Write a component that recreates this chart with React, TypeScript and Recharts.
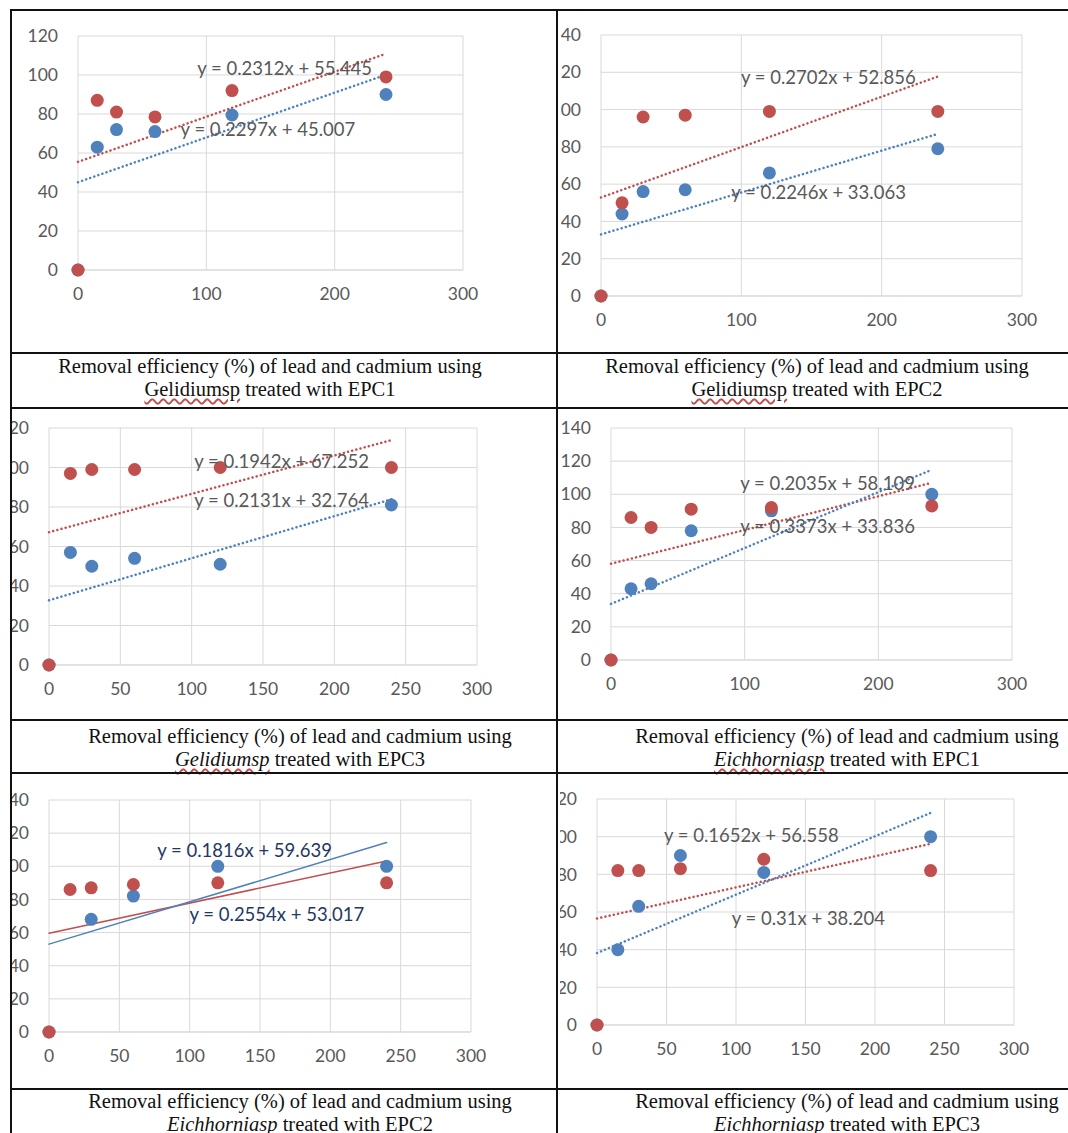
import React from 'react';
import { ScatterChart, Scatter, XAxis, YAxis, CartesianGrid, ReferenceLine, ReferenceDot } from 'recharts';

const X_TIMES = [0, 15, 30, 60, 120, 240];

const c1Red = [0, 87, 81, 78.5, 92, 99];
const c1Blue = [0, 63, 72, 71, 79.5, 90];
const c2Red = [0, 50, 96, 97, 99, 99];
const c2Blue = [0, 44, 56, 57, 66, 79];
const c3Red = [0, 97, 99, 99, 100, 100];
const c3Blue = [0, 57, 50, 54, 51, 81];
const c4Red = [0, 86, 80, 91, 92, 93];
const c4Blue = [0, 43, 46, 78, 90, 100];
const c5Red = [0, 86, 87, 89, 90, 90];
const c5Blue = [0, null, 68, 82, 100, 100];
const c6Red = [0, 82, 82, 83, 88, 82];
const c6Blue = [0, 40, 63, 90, 81, 100];

// trendline equations [slope, intercept]
const c1Trend = { red: [0.2312, 55.445], blue: [0.2297, 45.007] };
const c2Trend = { red: [0.2702, 52.856], blue: [0.2246, 33.063] };
const c3Trend = { red: [0.1942, 67.252], blue: [0.2131, 32.764] };
const c4Trend = { red: [0.2035, 58.109], blue: [0.3373, 33.836] };
const c5Trend = { red: [0.1816, 59.639], blue: [0.2554, 53.017] };
const c6Trend = { red: [0.1652, 56.558], blue: [0.31, 38.204] };

const RED = '#c0504d';
const BLUE = '#4f81bd';

const pts = (ys: (number | null)[]) =>
  X_TIMES.map((x, i) => ({ x, y: ys[i] })).filter((p) => p.y !== null);

const eq = (t: number[]) => `y = ${t[0]}x + ${t[1]}`;

type Cfg = {
  cell: [number, number, number, number];
  plot: [number, number, number, number];
  ymax: number;
  xticks: number[];
  red: (number | null)[];
  blue: (number | null)[];
  trend: { red: number[]; blue: number[] };
  solid?: boolean;
  labels: { text: string; x: number; y: number; color: string }[];
};

const charts: Cfg[] = [
  {
    cell: [11, 11, 546, 341], plot: [78, 36, 463, 270], ymax: 120, xticks: [0, 100, 200, 300],
    red: c1Red, blue: c1Blue, trend: c1Trend,
    labels: [
      { text: eq(c1Trend.red), x: 161, y: 103.6, color: '#595959' },
      { text: eq(c1Trend.blue), x: 148, y: 72.3, color: '#595959' },
    ],
  },
  {
    cell: [561, 11, 507, 341], plot: [601, 35, 1022, 296], ymax: 140, xticks: [0, 100, 200, 300],
    red: c2Red, blue: c2Blue, trend: c2Trend,
    labels: [
      { text: eq(c2Trend.red), x: 162, y: 117.5, color: '#595959' },
      { text: eq(c2Trend.blue), x: 155, y: 55.8, color: '#595959' },
    ],
  },
  {
    cell: [11, 408, 546, 311], plot: [49, 428, 477, 665], ymax: 120, xticks: [0, 50, 100, 150, 200, 250, 300],
    red: c3Red, blue: c3Blue, trend: c3Trend,
    labels: [
      { text: eq(c3Trend.red), x: 163, y: 103, color: '#595959' },
      { text: eq(c3Trend.blue), x: 163, y: 83.5, color: '#595959' },
    ],
  },
  {
    cell: [558, 408, 510, 311], plot: [611, 428, 1012, 660], ymax: 140, xticks: [0, 100, 200, 300],
    red: c4Red, blue: c4Blue, trend: c4Trend,
    labels: [
      { text: eq(c4Trend.red), x: 162, y: 106.8, color: '#595959' },
      { text: eq(c4Trend.blue), x: 162, y: 80.3, color: '#595959' },
    ],
  },
  {
    cell: [11, 774, 546, 313], plot: [49, 800, 471, 1032], ymax: 140, xticks: [0, 50, 100, 150, 200, 250, 300],
    red: c5Red, blue: c5Blue, trend: c5Trend, solid: true,
    labels: [
      { text: eq(c5Trend.red), x: 139, y: 109.8, color: '#1f3864' },
      { text: eq(c5Trend.blue), x: 162, y: 71.2, color: '#1f3864' },
    ],
  },
  {
    cell: [560, 774, 508, 313], plot: [597, 799, 1014, 1025], ymax: 120, xticks: [0, 50, 100, 150, 200, 250, 300],
    red: c6Red, blue: c6Blue, trend: c6Trend,
    labels: [
      { text: eq(c6Trend.red), x: 111, y: 100.4, color: '#595959' },
      { text: eq(c6Trend.blue), x: 152, y: 56.8, color: '#595959' },
    ],
  },
];

const captions = [
  { species: 'Gelidiumsp', epc: 'EPC1', italic: false, cx: 270, y: 355 },
  { species: 'Gelidiumsp', epc: 'EPC2', italic: false, cx: 817, y: 355 },
  { species: 'Gelidiumsp', epc: 'EPC3', italic: true, cx: 300, y: 725 },
  { species: 'Eichhorniasp', epc: 'EPC1', italic: true, cx: 847, y: 725 },
  { species: 'Eichhorniasp', epc: 'EPC2', italic: true, cx: 300, y: 1090 },
  { species: 'Eichhorniasp', epc: 'EPC3', italic: true, cx: 847, y: 1090 },
];

const PADL = 60, PADT = 12, PADR = 30, PADB = 40;
const FONT = 'Lato, "Open Sans", sans-serif';

function Chart({ c }: { c: Cfg }) {
  const [cx, cy, cw, ch] = c.cell;
  const [pl, pt, pr, pb] = c.plot;
  const w = pr - pl + PADL + PADR;
  const h = pb - pt + PADT + PADB;
  const yticks: number[] = [];
  for (let v = 0; v <= c.ymax; v += 20) yticks.push(v);
  const dash = c.solid ? undefined : '0.1 4.2';
  const tickStyle = { fill: '#595959', fontSize: 17.5, fontFamily: FONT };
  return (
    <div style={{ position: 'absolute', left: cx, top: cy, width: cw, height: ch, overflow: 'hidden' }}>
      <div style={{ position: 'absolute', left: pl - PADL - cx, top: pt - PADT - cy }}>
        <ScatterChart width={w} height={h} margin={{ top: PADT, right: PADR, left: 0, bottom: 0 }}>
          <CartesianGrid stroke="#d9d9d9" />
          <XAxis type="number" dataKey="x" domain={[0, 300]} ticks={c.xticks} tick={tickStyle}
            axisLine={{ stroke: '#d9d9d9' }} tickLine={false} tickMargin={12} height={PADB} interval={0} />
          <YAxis type="number" dataKey="y" domain={[0, c.ymax]} ticks={yticks} tick={tickStyle}
            axisLine={false} tickLine={false} tickMargin={14} width={PADL} interval={0} />
          <ReferenceLine segment={[{ x: 0, y: c.trend.red[1] }, { x: 240, y: c.trend.red[0] * 240 + c.trend.red[1] }]}
            stroke={RED} strokeWidth={c.solid ? 1.5 : 2.5} strokeDasharray={dash} strokeLinecap="round" ifOverflow="visible" />
          <ReferenceLine segment={[{ x: 0, y: c.trend.blue[1] }, { x: 240, y: c.trend.blue[0] * 240 + c.trend.blue[1] }]}
            stroke={BLUE} strokeWidth={c.solid ? 1.5 : 2.5} strokeDasharray={dash} strokeLinecap="round" ifOverflow="visible" />
          <Scatter data={pts(c.blue)} fill={BLUE} isAnimationActive={false}
            shape={(p: any) => <circle cx={p.cx} cy={p.cy} r={6.5} fill={BLUE} />} />
          <Scatter data={pts(c.red)} fill={RED} isAnimationActive={false}
            shape={(p: any) => <circle cx={p.cx} cy={p.cy} r={6.5} fill={RED} />} />
          {c.labels.map((l, i) => (
            <ReferenceDot key={i} x={l.x} y={l.y} r={0} ifOverflow="visible"
              label={{ value: l.text, position: 'center', fill: l.color, fontSize: 18.5, fontFamily: FONT }} />
          ))}
        </ScatterChart>
      </div>
    </div>
  );
}

const line = (l: number, t: number, w: number, h: number, k: string) => (
  <div key={k} style={{ position: 'absolute', left: l, top: t, width: w, height: h, background: '#111' }} />
);

export default function App() {
  return (
    <div style={{ position: 'absolute', left: 0, top: 0, width: 1068, height: 1133, background: '#fff', overflow: 'hidden' }}>
      {charts.map((c, i) => <Chart key={i} c={c} />)}
      {captions.map((cp, i) => (
        <div key={'c' + i} style={{ position: 'absolute', left: cp.cx - 300, top: cp.y, width: 600, textAlign: 'center',
          fontFamily: '"Liberation Serif", "Times New Roman", serif', fontSize: 20.5, lineHeight: '23px', color: '#111', whiteSpace: 'nowrap' }}>
          <div>Removal efficiency (%) of lead and cadmium using</div>
          <div>
            <span style={{ fontStyle: cp.italic ? 'italic' : 'normal', textDecoration: 'underline wavy #c0504d' }}>{cp.species}</span>
            {' treated with ' + cp.epc}
          </div>
        </div>
      ))}
      {line(10, 9, 1058, 2, 't')}
      {line(10, 9, 2, 1124, 'l')}
      {line(556, 9, 2, 1124, 'm')}
      {[352, 407, 719, 772, 1088].map((y, i) => line(10, y, 1058, 2, 'h' + i))}
    </div>
  );
}
